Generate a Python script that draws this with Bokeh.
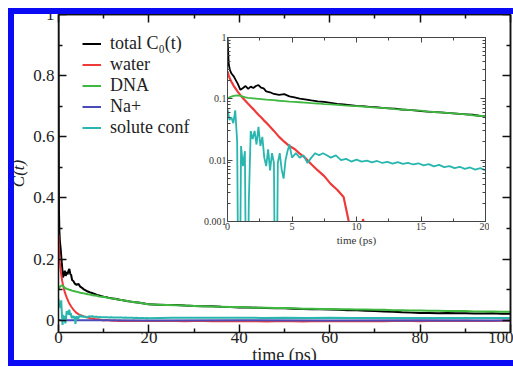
import numpy as np
from bokeh.plotting import figure
from bokeh.models import (Range1d, LinearAxis, LogAxis, FixedTicker,
                          NumeralTickFormatter, Legend, LegendItem)
from bokeh.embed import file_html
from bokeh.resources import INLINE

# ---------------- data ----------------
time_ps = [0, 0.1, 0.2, 0.3, 0.4, 0.5, 0.6, 0.8, 1.0,
           1.2, 1.4, 1.6, 1.8, 2.0, 2.2, 2.4, 2.6, 2.8, 3.0,
           3.3, 3.6, 4.0, 4.4, 4.8, 5.2, 5.6, 6.0,
           6.5, 7.0, 7.5, 8.0, 8.5, 9.0, 9.5,
           10, 10.5, 11, 11.5, 12, 12.5, 13, 13.5, 14, 14.5, 15, 15.5, 16, 16.5,
           17, 17.5, 18, 18.5, 19, 19.5, 20,
           22, 24, 26, 28, 30, 32, 34, 36, 38, 40, 42, 44, 46, 48, 50, 52, 54, 56, 58, 60,
           62, 64, 66, 68, 70, 72, 74, 76, 78, 80, 82, 84, 86, 88, 90, 92, 94, 96, 98, 100]

total_c0 = [1.0, 0.36, 0.29, 0.26, 0.245, 0.23, 0.21, 0.175, 0.14,
            0.15, 0.162, 0.145, 0.158, 0.15, 0.162, 0.168, 0.152, 0.148, 0.132,
            0.128, 0.12, 0.116, 0.119, 0.11, 0.106, 0.101, 0.098,
            0.094, 0.091, 0.089, 0.086, 0.083, 0.081, 0.079,
            0.077, 0.076, 0.074, 0.073, 0.071, 0.070, 0.069, 0.067, 0.066, 0.065, 0.063, 0.062,
            0.061, 0.060, 0.059, 0.058, 0.057, 0.056, 0.055, 0.053, 0.052,
            0.051, 0.050, 0.050, 0.048, 0.047, 0.046, 0.046, 0.044, 0.043, 0.042,
            0.042, 0.041, 0.040, 0.039, 0.039, 0.038, 0.037, 0.036, 0.036, 0.035,
            0.034, 0.033, 0.033, 0.031, 0.030, 0.029, 0.028, 0.026, 0.025, 0.024,
            0.024, 0.023, 0.024, 0.023, 0.023, 0.022, 0.022, 0.023, 0.021, 0.021]

water = [0.28, 0.24, 0.21, 0.19, 0.175, 0.16, 0.15, 0.13, 0.115,
         0.102, 0.092, 0.083, 0.075, 0.068, 0.061, 0.055, 0.050, 0.045, 0.041,
         0.035, 0.030, 0.024, 0.020, 0.017, 0.0152, 0.0128, 0.011,
         0.0086, 0.0068, 0.0055, 0.0041, 0.0033, 0.0025, 0.0008,
         -0.0005, 0.0011, 0.0004, -0.001, -0.0015, -0.001, -0.002, -0.0015, -0.002, -0.0025,
         -0.002, -0.0025, -0.002, -0.0015, -0.002, -0.0025, -0.002, -0.0025, -0.002, -0.0015, -0.002,
         -0.002, -0.0025, -0.002, -0.003, -0.0025, -0.002, -0.003, -0.0035, -0.003, -0.0025,
         -0.003, -0.0035, -0.004, -0.0035, -0.003, -0.0035, -0.004, -0.0035, -0.003, -0.003,
         -0.0035, -0.003, -0.0025, -0.003, -0.0035, -0.003, -0.0025, -0.002, -0.0025, -0.003,
         -0.0025, -0.002, -0.0025, -0.002, -0.0015, -0.002, -0.0025, -0.002, -0.0015, -0.002]

dna = [0.100, 0.104, 0.107, 0.109, 0.111, 0.112, 0.113, 0.114, 0.112,
       0.109, 0.106, 0.104, 0.103, 0.102, 0.101, 0.100, 0.099, 0.098, 0.097,
       0.096, 0.095, 0.093, 0.092, 0.090, 0.089, 0.088, 0.087,
       0.085, 0.084, 0.082, 0.081, 0.080, 0.078, 0.077,
       0.076, 0.075, 0.073, 0.072, 0.071, 0.070, 0.068, 0.067, 0.066, 0.065, 0.064, 0.062,
       0.061, 0.060, 0.059, 0.058, 0.057, 0.056, 0.054, 0.053, 0.052,
       0.051, 0.050, 0.049, 0.048, 0.047, 0.046, 0.045, 0.044, 0.043, 0.043,
       0.042, 0.041, 0.041, 0.040, 0.040, 0.039, 0.038, 0.038, 0.037, 0.037,
       0.036, 0.036, 0.035, 0.035, 0.034, 0.034, 0.033, 0.033, 0.032, 0.032,
       0.031, 0.031, 0.030, 0.030, 0.030, 0.029, 0.029, 0.029, 0.028, 0.028]

na_time = [0, 0.3, 0.6, 1, 2, 3, 5, 10, 20, 40, 60, 80, 100]
na_plus = [0.0008, 0.0005, 0.0003, 0.0002, 0.0, 0.0003, -0.0002, 0.0, -0.0005, 0.0, -0.0008, -0.0003, -0.0005]

conf_time = [0, 0.15, 0.3, 0.45, 0.6, 0.75, 0.9, 1.05, 1.2, 1.35,
             1.5, 1.65, 1.8, 1.95, 2.1, 2.25, 2.4, 2.55, 2.7, 2.85,
             3.0, 3.15, 3.3, 3.45, 3.6, 3.75, 3.9, 4.05, 4.2, 4.35,
             4.5, 4.65, 4.8, 5.0, 5.3, 5.6, 5.9, 6.2, 6.5, 6.8,
             7.1, 7.4, 7.7, 8.0, 8.4, 8.8, 9.2, 9.6, 10.0, 10.4,
             10.8, 11.2, 11.6, 12.0, 12.4, 12.8, 13.2, 13.6, 14.0, 14.4,
             14.8, 15.2, 15.6, 16.0, 16.4, 16.8, 17.2, 17.6, 18.0, 18.4,
             18.8, 19.2, 19.6, 20.0,
             25, 30, 35, 40, 45, 50, 55, 60, 65, 70, 75, 80, 85, 90, 95, 100]
solute_conf = [0.07, 0.045, 0.05, 0.04, 0.065, 0.02, -0.015, 0.017, 0.008, 0.014,
               -0.01, 0.002, 0.03, 0.022, 0.03, 0.018, 0.035, 0.017, 0.024, 0.011,
               0.008, 0.015, 0.0068, 0.013, 0.009, -0.012, 0.009, 0.013, 0.007, 0.005,
               0.01, 0.014, 0.018, 0.011, 0.013, 0.011, 0.012, 0.009, 0.011, 0.013,
               0.012, 0.013, 0.012, 0.011, 0.012, 0.010, 0.0105, 0.0095, 0.0102, 0.0095,
               0.0098, 0.0092, 0.0097, 0.009, 0.0094, 0.0088, 0.0093, 0.0087, 0.009, 0.0085,
               0.0089, 0.0082, 0.0086, 0.0079, 0.0084, 0.0077, 0.008, 0.0074, 0.0078, 0.0072,
               0.0076, 0.007, 0.0074, 0.0068,
               0.008, 0.0085, 0.008, 0.0082, 0.0078, 0.008, 0.0076, 0.0079, 0.0075, 0.0077,
               0.0074, 0.0076, 0.0073, 0.0075, 0.0072, 0.0074]

labels = ["total C\u2080(t)", "water", "DNA", "Na+", "solute conf"]
colors = ["#000000", "#ee3a3a", "#3fb83f", "#4a4ab8", "#28b6ae"]
series = [(time_ps, total_c0), (time_ps, water), (time_ps, dna), (na_time, na_plus), (conf_time, solute_conf)]

main_x_major = [0, 20, 40, 60, 80, 100]
main_x_minor = [10, 30, 50, 70, 90]
main_y_major = [0, 0.2, 0.4, 0.6, 0.8, 1.0]
main_y_minor = [0.1, 0.3, 0.5, 0.7, 0.9]
ins_x_major = [0, 5, 10, 15, 20]
ins_x_minor = [2.5, 7.5, 12.5, 17.5]
log_major = [0.001, 0.01, 0.1, 1]
log_minor = [m * 10.0 ** e for e in (-3, -2, -1) for m in range(2, 10)]

SERIF = "Liberation Serif"
BLUE = "#0a0af5"

# ---------------- main plot ----------------
FL, FR, FT, FB = 58, 3, 14, 35
W, H = 513, 367
p = figure(width=W, height=H, output_backend="svg", toolbar_location=None,
           x_range=Range1d(0, 100), y_range=Range1d(-0.04, 1.0),
           min_border_left=FL, min_border_right=FR, min_border_top=FT, min_border_bottom=FB,
           x_axis_label="time (ps)", y_axis_label="C(t)")
p.grid.visible = False
p.outline_line_color = None
p.background_fill_color = "white"
p.border_fill_color = "white"

renderers = []
for (xs, ys), c in zip(series, colors):
    renderers.append(p.line(xs, ys, line_color=c, line_width=2))

def style_lines(ax, color, lw):
    ax.axis_line_width = lw
    ax.axis_line_color = color
    ax.major_tick_line_width = lw
    ax.minor_tick_line_width = lw
    ax.major_tick_line_color = color
    ax.minor_tick_line_color = color
    ax.major_tick_out = 0
    ax.minor_tick_out = 0

p.xaxis.ticker = FixedTicker(ticks=main_x_major, minor_ticks=main_x_minor)
p.yaxis.ticker = FixedTicker(ticks=main_y_major, minor_ticks=main_y_minor)
p.yaxis.formatter = NumeralTickFormatter(format="0.[0]")
for ax in (p.xaxis[0], p.yaxis[0]):
    style_lines(ax, "#111111", 1.5)
    ax.major_tick_in = 8
    ax.minor_tick_in = 4
    ax.major_label_text_font = SERIF
    ax.major_label_text_font_size = "17px"
    ax.major_label_text_color = "#222222"
    ax.axis_label_text_font = SERIF
    ax.axis_label_text_color = "#222222"
p.xaxis.major_label_standoff = -1
p.yaxis.major_label_standoff = 4
p.xaxis.axis_label_standoff = -1
p.yaxis.axis_label_standoff = 2
p.xaxis.axis_label_text_font_size = "18px"
p.yaxis.axis_label_text_font_size = "17px"
p.xaxis.axis_label_text_font_style = "normal"
p.yaxis.axis_label_text_font_style = "italic"

def tick_only_axis(kind, positions, length, color, lw):
    ax = kind(ticker=FixedTicker(ticks=[], minor_ticks=positions))
    style_lines(ax, color, lw)
    ax.major_tick_in = 0
    ax.minor_tick_in = length
    ax.major_label_standoff = 0
    return ax

p.add_layout(tick_only_axis(LinearAxis, main_x_major, 8, "#111111", 1.5), "above")
p.add_layout(tick_only_axis(LinearAxis, main_x_minor, 4, "#111111", 1.5), "above")
p.add_layout(tick_only_axis(LinearAxis, main_y_major, 8, "#111111", 1.5), "right")
p.add_layout(tick_only_axis(LinearAxis, main_y_minor, 4, "#111111", 1.5), "right")

legend = Legend(items=[LegendItem(label=l, renderers=[r]) for l, r in zip(labels, renderers)],
                location=(24, 194), padding=5, spacing=-3,
                glyph_width=19, glyph_height=17, label_height=17, label_standoff=9,
                label_text_font=SERIF, label_text_font_size="18px", label_text_color="#222222",
                background_fill_alpha=0, border_line_color=None)
p.add_layout(legend)

# ---------------- inset (log scale) ----------------
ins = figure(width=290, height=215, output_backend="svg", toolbar_location=None,
             x_range=Range1d(0, 20), y_range=Range1d(0.001, 1), y_axis_type="log",
             min_border_left=28, min_border_right=4, min_border_top=4, min_border_bottom=26,
             x_axis_label="time (ps)")
ins.grid.visible = False
ins.outline_line_color = None
ins.background_fill_color = "white"
ins.border_fill_alpha = 0
ins.styles = {"position": "absolute", "left": "199px", "top": "33px"}

for (xs, ys), c in zip(series, colors):
    ins.line(xs, np.clip(np.array(ys, dtype=float), 1e-6, None), line_color=c,
             line_width=2.2 if c == "#ee3a3a" else 1.8)

ins.xaxis.ticker = FixedTicker(ticks=ins_x_major, minor_ticks=ins_x_minor)
ins.yaxis.ticker = FixedTicker(ticks=log_major, minor_ticks=log_minor)
ins.yaxis.formatter = NumeralTickFormatter(format="0.[000]")
for ax in (ins.xaxis[0], ins.yaxis[0]):
    style_lines(ax, "#444444", 1)
    ax.major_tick_in = 5
    ax.minor_tick_in = 3
    ax.major_label_text_font = SERIF
    ax.major_label_text_font_size = "10px"
    ax.major_label_text_color = "#333333"
    ax.major_label_standoff = 1
ins.xaxis.axis_label_text_font = SERIF
ins.xaxis.axis_label_text_font_size = "11px"
ins.xaxis.axis_label_text_font_style = "normal"
ins.xaxis.axis_label_text_color = "#333333"
ins.xaxis.axis_label_standoff = 1

ins.add_layout(tick_only_axis(LinearAxis, ins_x_major, 5, "#444444", 1), "above")
ins.add_layout(tick_only_axis(LinearAxis, ins_x_minor, 3, "#444444", 1), "above")
ins.add_layout(tick_only_axis(LogAxis, log_major, 5, "#444444", 1), "right")
ins.add_layout(tick_only_axis(LogAxis, log_minor, 3, "#444444", 1), "right")

# ---------------- blue picture frame (three plain blue panels) ----------------
def blue_bar(w, h, left, top):
    b = figure(width=w, height=h, title=None, output_backend="svg", toolbar_location=None,
               x_axis_location=None, y_axis_location=None, min_border=0,
               background_fill_color=BLUE, border_fill_color=BLUE, outline_line_color=None)
    b.grid.visible = False
    b.styles = {"position": "absolute", "left": f"{left}px", "top": f"{top}px",
                "background-color": BLUE}
    return b

bars = [blue_bar(6, 358, 8, 8), blue_bar(505, 6, 8, 8), blue_bar(505, 6, 8, 360)]

open("out.html", "w").write(file_html([p, ins] + bars, INLINE))
